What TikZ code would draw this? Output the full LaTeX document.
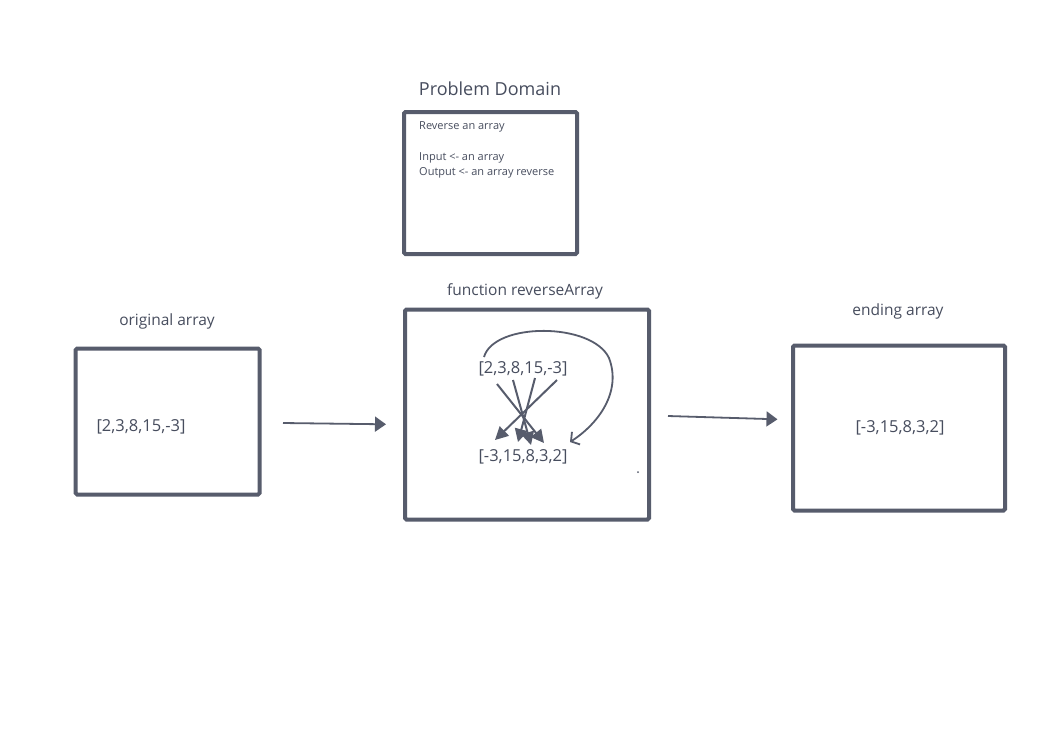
\documentclass[tikz,border=0pt]{standalone}
\usepackage{fontspec}
\setmainfont{Open Sans}
\usetikzlibrary{arrows.meta}
\definecolor{ink}{HTML}{575C6C}
\definecolor{txt}{HTML}{474D5E}

\begin{document}
\begin{tikzpicture}[
	box/.style={draw=ink, line width=4pt, rounded corners=1.5pt, inner sep=0pt},
	title/.style={text=txt, font=\fontsize{15.5}{18}\selectfont},
	arr/.style={text=txt, font=\fontsize{16.5}{19}\selectfont},
	note/.style={text=txt, anchor=west, inner sep=0pt, font=\fontsize{11}{13}\selectfont},
	flow/.style={-{Triangle[length=11pt, width=15pt]}, draw=ink, line width=1.8pt},
	swap/.style={-{Triangle[length=13pt, width=13pt]}, draw=ink, line width=2pt},
	loop/.style={-{Straight Barb[length=6pt, width=15pt]}, draw=ink, line width=1.8pt},
	x=1pt, y=-1pt
]
\fill[white] (0,0) rectangle (1060,732);
\useasboundingbox (0,0) rectangle (1060,732);

% Problem domain
\node[title, font=\fontsize{18}{21}\selectfont] (pdt) at (490,89) {Problem Domain};
\node[box, minimum width=173pt, minimum height=142pt] (pd) at (490.5,183) {};
\node[note] (pd1) at (419,127) {Reverse an array};
\node[note] (pd2) at (419,158) {Input <- an array};
\node[note] (pd3) at (419,173) {Output <- an array reverse};

% Original array
\node[title] (origt) at (167,321) {original array};
\node[box, minimum width=184pt, minimum height=146pt] (orig) at (167.6,421.5) {};
\node[arr] (origa) at (141,427) {[2,3,8,15,-3]};

% function reverseArray
\node[title] (funct) at (525,291) {function reverseArray};
\node[box, minimum width=244pt, minimum height=210pt] (func) at (527,414.5) {};
\node[arr] (src) at (523,369) {[2,3,8,15,-3]};
\node[arr] (dst) at (523,457) {[-3,15,8,3,2]};
\fill[ink] (638,472) circle (1pt);

% Ending array
\node[title] (endt) at (898,311) {ending array};
\node[box, minimum width=212pt, minimum height=165pt] (ende) at (899,428) {};
\node[arr] (enda) at (900,428) {[-3,15,8,3,2]};

% Flow between boxes
\coordinate (f1s) at (283,423);
\coordinate (f1e) at (386,424.3);
\coordinate (f2s) at (668,416);
\coordinate (f2e) at (777.5,419.3);
\draw[flow] (f1s) -- (f1e);
\draw[flow] (f2s) -- (f2e);

% Swaps inside the function
\coordinate (s1) at (497,384);
\coordinate (s2) at (513,380);
\coordinate (s3) at (535,378);
\coordinate (s4) at (557,380);
\coordinate (t1) at (544,443);
\coordinate (t2) at (531,445);
\coordinate (t3) at (518,442);
\coordinate (t4) at (495,440);
\draw[swap] (s1) -- (t1);
\draw[swap] (s2) -- (t2);
\draw[swap] (s3) -- (t3);
\draw[swap] (s4) -- (t4);

% Loop back
\coordinate (ls) at (484,357);
\coordinate (le) at (570,442);
\draw[loop] (ls) .. controls (494,322) and (592,322) .. (609,358)
	.. controls (622,392) and (598,424) .. (le);
\end{tikzpicture}
\end{document}
